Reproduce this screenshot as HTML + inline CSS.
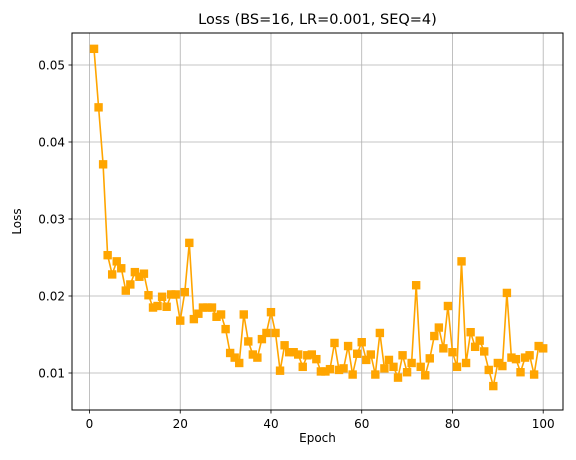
<!DOCTYPE html>
<html><head><meta charset="utf-8"><style>
body{margin:0;background:#fff;}
svg text{font-family:"DejaVu Sans","Liberation Sans",sans-serif;fill:#000;}
</style></head><body>
<svg id="chart" width="576" height="455" xmlns="http://www.w3.org/2000/svg">
<rect width="576" height="455" fill="#fff"/>
<g id="grid"></g>
<g id="series"></g>
<rect x="72" y="33" width="491" height="377" fill="none" stroke="#000" stroke-width="1"/>
<g id="ticks"></g>
<text x="317.5" y="24" font-size="14.5" text-anchor="middle">Loss (BS=16, LR=0.001, SEQ=4)</text>
<text x="317.5" y="442" font-size="12" text-anchor="middle">Epoch</text>
<text x="21" y="221.5" font-size="12" text-anchor="middle" transform="rotate(-90 21 221.5)">Loss</text>
</svg>
<script>
const epochs = Array.from({length:100},(_,i)=>i+1);
const lossValues = [0.0521,0.0445,0.0371,0.0253,0.0228,0.0245,0.0236,0.0207,0.0215,0.0231,
0.0225,0.0229,0.0201,0.0185,0.0187,0.0199,0.0186,0.0202,0.0202,0.0168,
0.0205,0.0269,0.0170,0.0177,0.0185,0.0185,0.0185,0.0173,0.0176,0.0157,
0.0126,0.0120,0.0113,0.0176,0.0141,0.0124,0.0120,0.0144,0.0152,0.0179,
0.0152,0.0103,0.0136,0.0127,0.0127,0.0124,0.0108,0.0123,0.0124,0.0118,
0.0102,0.0102,0.0105,0.0139,0.0104,0.0106,0.0135,0.0098,0.0125,0.0140,
0.0117,0.0124,0.0098,0.0152,0.0106,0.0117,0.0108,0.0094,0.0123,0.0101,
0.0113,0.0214,0.0108,0.0097,0.0119,0.0148,0.0159,0.0132,0.0187,0.0127,
0.0108,0.0245,0.0113,0.0153,0.0134,0.0142,0.0128,0.0104,0.0083,0.0113,
0.0109,0.0204,0.0120,0.0118,0.0101,0.0120,0.0123,0.0098,0.0135,0.0132];
const xTicks = [0,20,40,60,80,100];
const yTicks = [0.01,0.02,0.03,0.04,0.05];
const yTickLabels = ["0.01","0.02","0.03","0.04","0.05"];

const NS="http://www.w3.org/2000/svg";
function xs(e){return 89.5 + e*4.537;}
function ys(v){return 373 - (v-0.01)*7700;}
function mk(tag,attrs,parent){const el=document.createElementNS(NS,tag);for(const k in attrs)el.setAttribute(k,attrs[k]);parent.appendChild(el);return el;}
const grid=document.getElementById('grid'),ticks=document.getElementById('ticks'),series=document.getElementById('series');
xTicks.forEach(t=>{
  const x=xs(t);
  const g=mk('line',{x1:x,x2:x,y1:33,y2:410,stroke:'#b0b0b0','stroke-width':0.8},grid);
  
  
  mk('line',{x1:x,x2:x,y1:410,y2:413.5,stroke:'#000','stroke-width':0.8},ticks);
  const tx=mk('text',{x:x,y:428,'font-size':12,'text-anchor':'middle'},ticks);
  tx.textContent=t;
  
  
});
yTicks.forEach((t,i)=>{
  const y=ys(t);
  const g=mk('line',{x1:72,x2:563,y1:y,y2:y,stroke:'#b0b0b0','stroke-width':0.8},grid);
  
  
  mk('line',{x1:68.5,x2:72,y1:y,y2:y,stroke:'#000','stroke-width':0.8},ticks);
  const tx=mk('text',{x:65,y:y+4.5,'font-size':12,'text-anchor':'end'},ticks);
  tx.textContent=yTickLabels[i];
  
  
});
const pts=epochs.map((e,i)=>xs(e).toFixed(1)+','+ys(lossValues[i]).toFixed(1)).join(' ');
const pl=mk('polyline',{points:pts,fill:'none',stroke:'#ffa500','stroke-width':1.6},series);


epochs.forEach((e,i)=>{
  const r=mk('rect',{x:xs(e)-4.2,y:ys(lossValues[i])-4.2,width:8.4,height:8.4,fill:'#ffa500'},series);
  
  
});
</script>
</body></html>
